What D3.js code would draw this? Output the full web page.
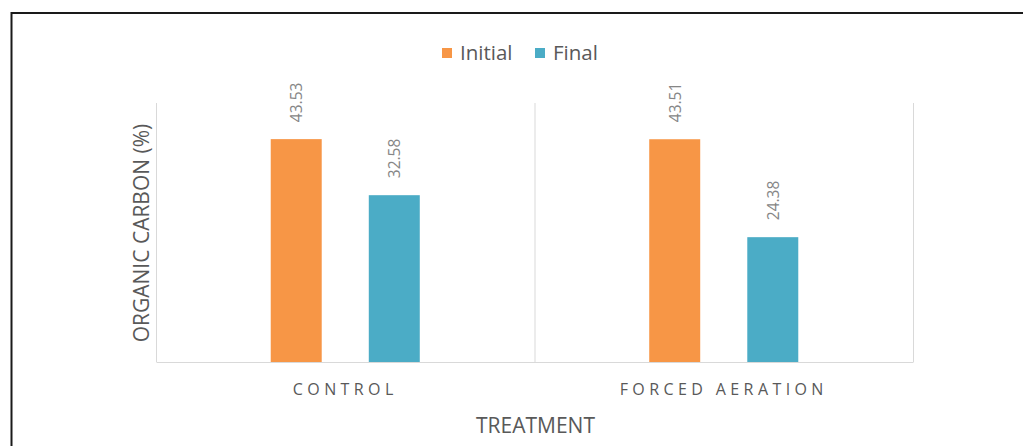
<!DOCTYPE html>
<html>
<head>
<meta charset="utf-8">
<script src="https://cdn.jsdelivr.net/npm/d3@7"></script>
<style>
  html, body { margin: 0; padding: 0; background: #fff; }
  svg { display: block; font-family: "Open Sans", "Noto Sans", sans-serif; }
</style>
</head>
<body>
<svg id="chart" width="1023" height="446"></svg>
<script>
// Organic carbon content before and after composting, per treatment
const categories = ["CONTROL", "FORCED AERATION"];
const seriesNames = ["Initial", "Final"];
const initialValues = [43.53, 43.51];
const finalValues = [32.58, 24.38];
const seriesColors = ["#f79646", "#4bacc6"];

const svg = d3.select("#chart");
const W = 1023, H = 446;
const plot = { left: 156, right: 913, top: 106, bottom: 362 };

// Frame lines along top and left edges
svg.append("line").attr("x1", 11).attr("x2", W).attr("y1", 13).attr("y2", 13)
  .attr("stroke", "#1a1a1a").attr("stroke-width", 2);
svg.append("line").attr("x1", 11.5).attr("x2", 11.5).attr("y1", 12).attr("y2", H)
  .attr("stroke", "#1a1a1a").attr("stroke-width", 2);

const x0 = d3.scaleBand().domain(categories).range([plot.left, plot.right])
  .paddingInner(0).paddingOuter(0);
const x1 = d3.scaleBand().domain(seriesNames).range([0, x0.bandwidth()])
  .paddingInner(0.48).paddingOuter(1.17);
const y = d3.scaleLinear().domain([0, 50]).range([plot.bottom, plot.top]);

const rows = categories.map((c, i) => ({
  category: c,
  values: [
    { series: seriesNames[0], value: initialValues[i], color: seriesColors[0] },
    { series: seriesNames[1], value: finalValues[i], color: seriesColors[1] }
  ]
}));

// Category separators (vertical gridlines)
const seps = [plot.left, ...categories.map(c => x0(c) + x0.bandwidth())];
svg.append("g").selectAll("line").data(seps).join("line")
  .attr("x1", d => d + 0.5).attr("x2", d => d + 0.5)
  .attr("y1", plot.top - 3).attr("y2", plot.bottom)
  .attr("stroke", "#d9d9d9").attr("stroke-width", 1);

// Bars
const groups = svg.append("g").selectAll("g").data(rows).join("g")
  .attr("transform", d => `translate(${x0(d.category)},0)`);

groups.selectAll("rect").data(d => d.values).join("rect")
  .attr("x", d => x1(d.series))
  .attr("y", d => y(d.value))
  .attr("width", x1.bandwidth())
  .attr("height", d => y(0) - y(d.value))
  .attr("fill", d => d.color);

// Rotated value labels above bars
groups.selectAll("text").data(d => d.values).join("text")
  .attr("transform", d => `translate(${x1(d.series) + x1.bandwidth() / 2 + 6},${y(d.value) - 17}) rotate(-90)`)
  .attr("text-anchor", "start")
  .attr("font-size", 15.5)
  .attr("fill", "#868686")
  .text(d => d.value.toFixed(2));

// Baseline axis
const xAxis = d3.axisBottom(x0).tickSize(0).tickPadding(22);
const gx = svg.append("g").attr("transform", `translate(0,${plot.bottom})`).call(xAxis);
gx.select(".domain").attr("stroke", "#d9d9d9");
gx.selectAll("text")
  .attr("font-family", "\"Open Sans\", \"Noto Sans\", sans-serif")
  .attr("font-size", 16)
  .attr("fill", "#595959")
  .attr("letter-spacing", "4.4px");

// Axis titles
svg.append("text")
  .attr("x", (plot.left + plot.right) / 2 + 1).attr("y", 433)
  .attr("text-anchor", "middle").attr("font-size", 21).attr("fill", "#595959")
  .text("TREATMENT");

svg.append("text")
  .attr("transform", `translate(149,${(plot.top + plot.bottom) / 2 - 1}) rotate(-90)`)
  .attr("text-anchor", "middle").attr("font-size", 21).attr("fill", "#595959")
  .text("ORGANIC CARBON (%)");

// Legend
const legend = svg.append("g");
const legendItems = [
  { name: seriesNames[0], color: seriesColors[0], x: 442 },
  { name: seriesNames[1], color: seriesColors[1], x: 535 }
];
const li = legend.selectAll("g").data(legendItems).join("g")
  .attr("transform", d => `translate(${d.x},48)`);
li.append("rect").attr("width", 10).attr("height", 10).attr("fill", d => d.color);
li.append("text").attr("x", 18).attr("y", 12).attr("font-size", 20.5).attr("fill", "#595959")
  .text(d => d.name);
</script>
</body>
</html>
